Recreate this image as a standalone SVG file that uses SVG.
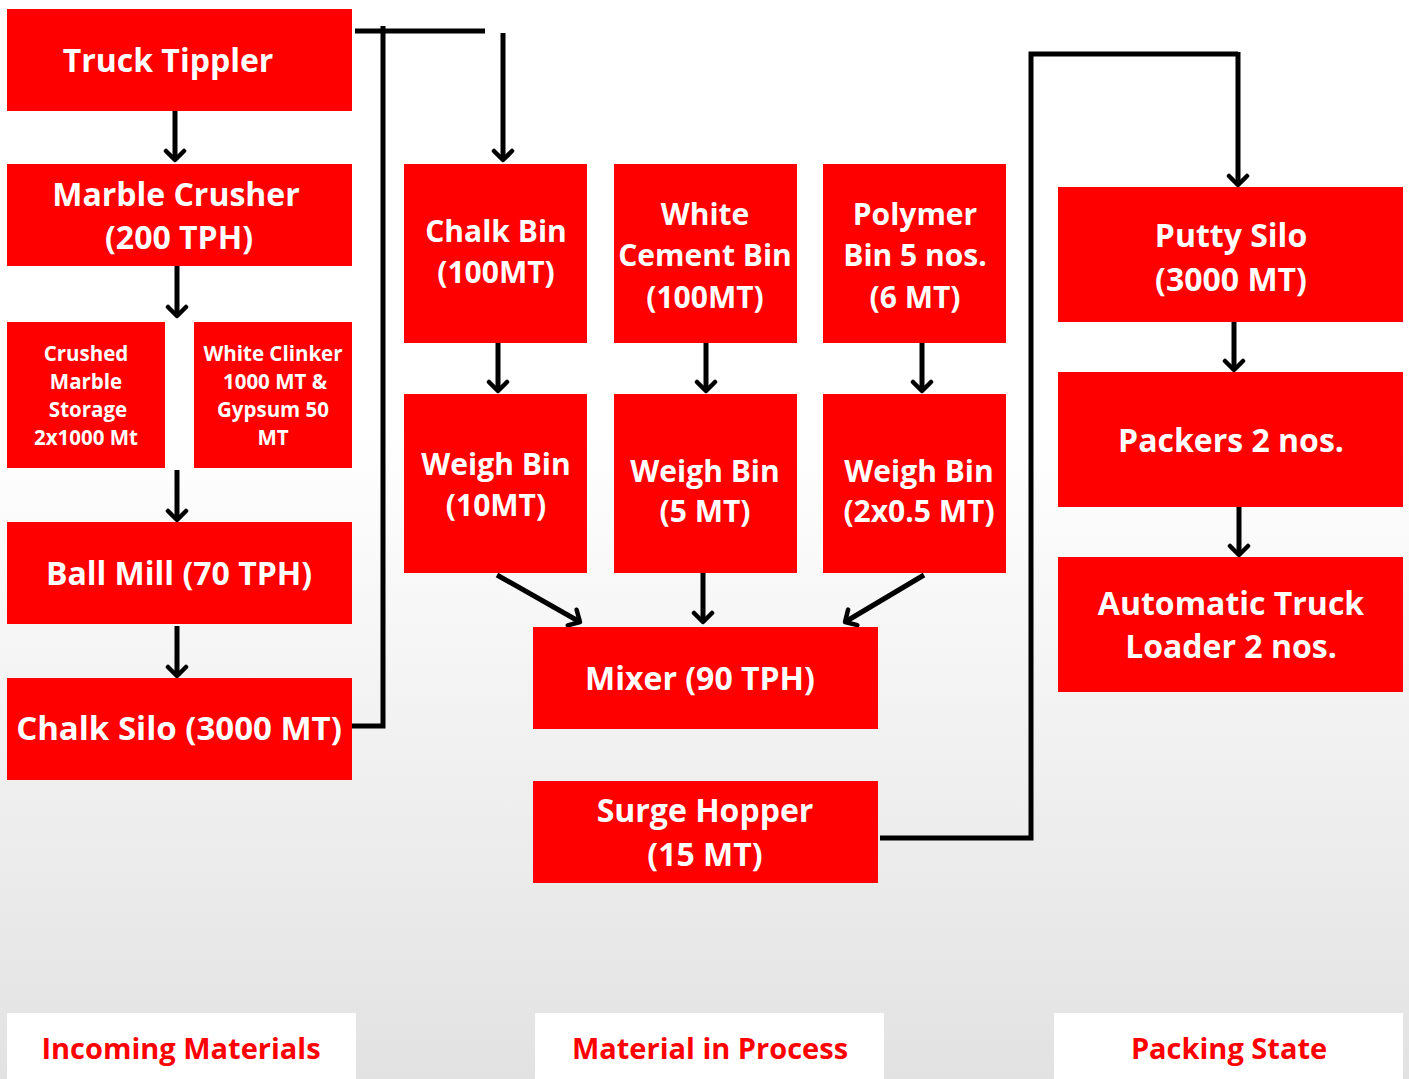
<svg xmlns="http://www.w3.org/2000/svg" width="1409" height="1079" viewBox="0 0 1409 1079">
<defs>
<linearGradient id="bg" x1="0" y1="0" x2="0" y2="1">
<stop offset="0" stop-color="#ffffff"/>
<stop offset="0.4" stop-color="#ffffff"/>
<stop offset="1" stop-color="#e2e2e2"/>
</linearGradient>
<marker id="ah" viewBox="0 0 24 24" refX="19" refY="12" markerWidth="24" markerHeight="24" markerUnits="userSpaceOnUse" orient="auto">
<path d="M10,3 L19,12 L10,21" fill="none" stroke="#000" stroke-width="4.5" stroke-linecap="round" stroke-linejoin="round"/>
</marker>
</defs>
<style>
.box{fill:#ff0000}
.t{font-family:"Open Sans","Liberation Sans",sans-serif;font-weight:700;fill:#ffffff;text-anchor:middle}
.l{font-size:32px}
.m{font-size:30px}
.s{font-size:20.5px}
.foot{fill:#ffffff}
.ft{font-family:"Open Sans","Liberation Sans",sans-serif;font-weight:700;fill:#ff0000;text-anchor:middle;font-size:29px}
.c{fill:none;stroke:#000;stroke-width:5}
.a{marker-end:url(#ah)}
</style>
<rect x="0" y="0" width="1409" height="1079" fill="url(#bg)"/>

<g id="connectors">
<path class="c a" d="M175,111 V160"/>
<path class="c a" d="M177,266 V316"/>
<path class="c a" d="M177,470 V520"/>
<path class="c a" d="M177,626 V676"/>
<path class="c" d="M352,726 H383 V26"/>
<path class="c" d="M355,31 H485"/>
<path class="c a" d="M503,33 V160"/>
<path class="c a" d="M498,343 V391"/>
<path class="c a" d="M706,343 V391"/>
<path class="c a" d="M922,343 V391"/>
<path class="c a" d="M497,575 L580,622"/>
<path class="c a" d="M703,573 V622"/>
<path class="c a" d="M924,575 L845,622"/>
<path class="c" d="M880,838 H1031 V54 H1238"/>
<path class="c a" d="M1238,52 V185"/>
<path class="c a" d="M1234,322 V370"/>
<path class="c a" d="M1239,507 V555"/>
</g>

<g id="truck-tippler"><rect class="box" x="7" y="9" width="345" height="102"/><text class="t l" x="168" y="72">Truck Tippler</text></g>
<g id="marble-crusher"><rect class="box" x="7" y="164" width="345" height="102"/><text class="t l" x="176" y="206">Marble Crusher</text><text class="t l" x="179" y="249">(200 TPH)</text></g>
<g id="crushed-marble"><rect class="box" x="7" y="322" width="158" height="146"/>
<text class="t s" x="86" y="361">Crushed</text><text class="t s" x="86" y="389">Marble</text><text class="t s" x="88" y="417">Storage</text><text class="t s" x="86" y="445">2x1000 Mt</text></g>
<g id="white-clinker"><rect class="box" x="194" y="322" width="158" height="146"/>
<text class="t s" x="273" y="361">White Clinker</text><text class="t s" x="275" y="389">1000 MT &amp;</text><text class="t s" x="273" y="417">Gypsum 50</text><text class="t s" x="273" y="445">MT</text></g>
<g id="ball-mill"><rect class="box" x="7" y="522" width="345" height="102"/><text class="t l" x="179" y="585">Ball Mill (70 TPH)</text></g>
<g id="chalk-silo"><rect class="box" x="7" y="678" width="345" height="102"/><text class="t l" x="179" y="740" style="font-size:33px">Chalk Silo (3000 MT)</text></g>

<g id="chalk-bin"><rect class="box" x="404" y="164" width="183" height="179"/><text class="t m" x="496" y="242">Chalk Bin</text><text class="t m" x="496" y="283">(100MT)</text></g>
<g id="white-cement-bin"><rect class="box" x="614" y="164" width="183" height="179"/><text class="t m" x="705" y="225">White</text><text class="t m" x="705" y="266">Cement Bin</text><text class="t m" x="705" y="308">(100MT)</text></g>
<g id="polymer-bin"><rect class="box" x="823" y="164" width="183" height="179"/><text class="t m" x="915" y="225">Polymer</text><text class="t m" x="915" y="266">Bin 5 nos.</text><text class="t m" x="915" y="308">(6 MT)</text></g>

<g id="weigh-bin-1"><rect class="box" x="404" y="394" width="183" height="179"/><text class="t m" x="496" y="475">Weigh Bin</text><text class="t m" x="496" y="516">(10MT)</text></g>
<g id="weigh-bin-2"><rect class="box" x="614" y="394" width="183" height="179"/><text class="t m" x="705" y="482">Weigh Bin</text><text class="t m" x="705" y="522">(5 MT)</text></g>
<g id="weigh-bin-3"><rect class="box" x="823" y="394" width="183" height="179"/><text class="t m" x="919" y="482">Weigh Bin</text><text class="t m" x="919" y="522">(2x0.5 MT)</text></g>

<g id="mixer"><rect class="box" x="533" y="627" width="345" height="102"/><text class="t l" x="700" y="690">Mixer (90 TPH)</text></g>
<g id="surge-hopper"><rect class="box" x="533" y="781" width="345" height="102"/><text class="t l" x="705" y="822">Surge Hopper</text><text class="t l" x="705" y="866">(15 MT)</text></g>

<g id="putty-silo"><rect class="box" x="1058" y="187" width="345" height="135"/><text class="t l" x="1231" y="247">Putty Silo</text><text class="t l" x="1231" y="291">(3000 MT)</text></g>
<g id="packers"><rect class="box" x="1058" y="372" width="345" height="135"/><text class="t l" x="1231" y="452">Packers 2 nos.</text></g>
<g id="truck-loader"><rect class="box" x="1058" y="557" width="345" height="135"/><text class="t l" x="1231" y="615">Automatic Truck</text><text class="t l" x="1231" y="658">Loader 2 nos.</text></g>

<g id="label-incoming"><rect class="foot" x="7" y="1013" width="349" height="66"/><text class="ft" x="181" y="1059">Incoming Materials</text></g>
<g id="label-process"><rect class="foot" x="535" y="1013" width="349" height="66"/><text class="ft" x="710" y="1059">Material in Process</text></g>
<g id="label-packing"><rect class="foot" x="1054" y="1013" width="349" height="66"/><text class="ft" x="1229" y="1059">Packing State</text></g>
</svg>
